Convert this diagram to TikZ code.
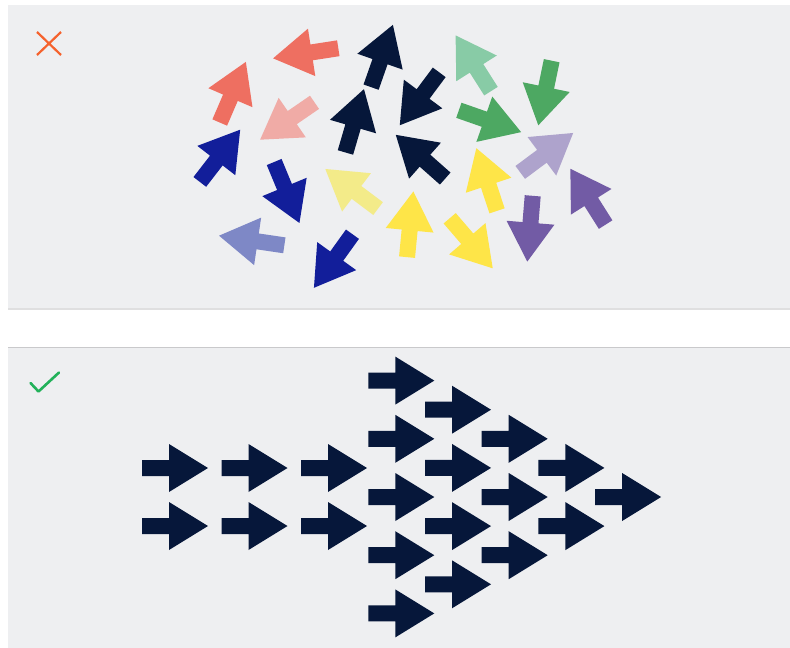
\documentclass[tikz,border=0pt]{standalone}
\usepackage{tikz}
\definecolor{panel}{HTML}{EEEFF1}
\definecolor{rule}{HTML}{C9C9CB}
\definecolor{navy}{HTML}{06173A}
\definecolor{salmon}{HTML}{EE6F61}
\definecolor{pink}{HTML}{F0ABA6}
\definecolor{mint}{HTML}{88CBA6}
\definecolor{grn}{HTML}{4DA862}
\definecolor{lav}{HTML}{AEA3CC}
\definecolor{royal}{HTML}{121E9A}
\definecolor{peri}{HTML}{7E88C6}
\definecolor{paleyel}{HTML}{F3EB89}
\definecolor{yel}{HTML}{FEE548}
\definecolor{purp}{HTML}{725BA5}
\definecolor{badmark}{HTML}{F5622D}
\definecolor{okmark}{HTML}{22B15A}
\tikzset{
  arw/.pic={\fill (-33,-8) -- (-6,-8) -- (-6,-24) -- (33,0) -- (-6,24) -- (-6,8) -- (-33,8) -- cycle;}
}

\begin{document}
\begin{tikzpicture}[x=1pt,y=-1pt]
 \useasboundingbox[fill=white] (0,0) rectangle (790,648);
 % panels
 \fill[panel] (8,5) rectangle (790,308);
 \draw[rule!60,line width=1.2pt] (8,309) -- (790,309);
 \fill[panel] (8,347) rectangle (790,648);
 \draw[rule,line width=1.5pt] (8,347.5) -- (790,347.5);
 % marks
 \draw[badmark,line width=2.2pt] (37,32) -- (61,55) (61,32) -- (37,55);
 \draw[okmark,line width=2.6pt,line cap=round,line join=round] (30.5,383) -- (38.5,391.5) -- (59,372.5);
 % scattered arrows
 \foreach \px/\py/\ang/\col in {
   232.8/92.2/66.7/salmon, 305.7/53.3/188.8/salmon, 287.3/121/214.5/pink,
   382/56/70.7/navy, 354.7/120.8/73.7/navy, 419.5/98.8/233.3/navy, 420.5/156.7/138.5/navy,
   473.3/63.3/122.4/mint, 490/121.2/-19.3/grn, 545/93/258.3/grn, 546.7/152.7/36.7/lav,
   220/155.8/52.3/royal, 286.8/192.5/-67.5/royal, 333.2/261/234.3/royal,
   351.7/188.8/143.1/paleyel, 251.7/240.5/171.6/peri,
   486.7/179.5/108.3/yel, 410.2/224.3/84.5/yel, 471.2/243.3/-49.3/yel,
   530/228.7/265.3/purp, 588/196.7/122.3/purp}
   \pic[\col,rotate=\ang] at (\px,\py) {arw};
 % aligned arrows
 \foreach \px in {175,254.5,334}
  \foreach \py in {468,526}
   \pic[navy] at (\px,\py) {arw};
 \foreach \k in {0,...,4}{
  \pgfmathtruncatemacro\last{4-\k}
  \foreach \j in {0,...,\last}
   \pic[navy] at ({401.3+56.7*\k},{497+29.1*(2*\j-\last)}) {arw};
 }
\end{tikzpicture}
\end{document}
